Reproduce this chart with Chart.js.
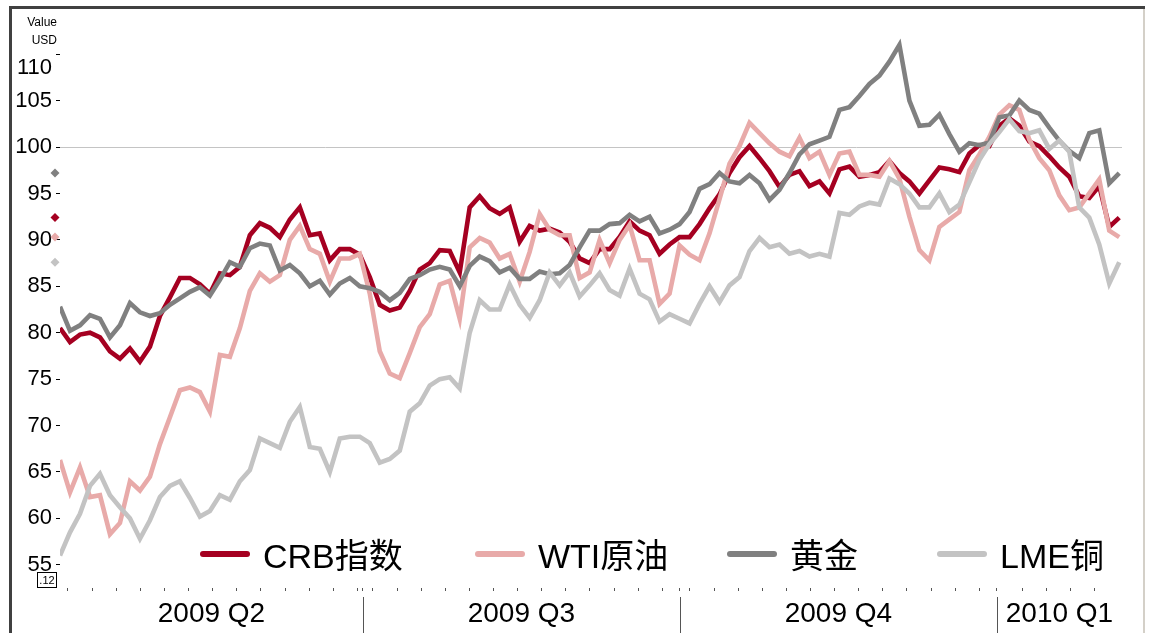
<!DOCTYPE html>
<html lang="zh">
<head>
    <meta charset="UTF-8">
    <title>CRB / WTI / 黄金 / LME铜</title>
    <style>
        body {
            margin: 0;
            padding: 0;
            background: #fff;
        }
        #wrap {
            width: 1151px;
            height: 633px;
        }
    </style>
    <script src="https://cdn.jsdelivr.net/npm/chart.js"></script>
</head>
<body>
    <div id="wrap"><canvas id="chart" width="1151" height="633"></canvas></div>
    <script>
        // x is in days counted from 2009-04-01, one sample about every 2.9 days
        const firstDay = 3.1;
        const stepDays = 2.9;
        const xMin = 3.1;
        const xMax = 311.3;
        const markerDay = 1.65;

        const quarterStarts = [0, 91, 183, 275];
        const quarterLabels = ['2009 Q2', '2009 Q3', '2009 Q4', '2010 Q1'];
        const weekOffsets = [5.4, 2.9, 2.9, 7.3];
        const yTicks = [55, 60, 65, 70, 75, 80, 85, 90, 95, 100, 105, 110];

        const seriesNames = ['CRB指数', 'WTI原油', '黄金', 'LME铜'];
        const seriesColors = ['#a50021', '#e8aaa9', '#808080', '#c3c3c3'];
        const legendX = [200, 475, 727, 937];

        const crb = [
            80.5, 79.0, 79.8, 80.0, 79.5, 78.0, 77.2, 78.3, 76.9, 78.5,
            81.8, 83.8, 85.9, 85.9, 85.2, 84.2, 86.4, 86.2, 87.1, 90.5,
            91.8, 91.3, 90.3, 92.2, 93.5, 90.5, 90.7, 87.8, 89.0, 89.0,
            88.4, 86.0, 83.0, 82.4, 82.7, 84.5, 86.8, 87.5, 88.9, 88.8,
            86.5, 93.5, 94.7, 93.4, 92.8, 93.5, 89.8, 91.5, 91.0, 91.2,
            90.8, 89.8, 88.0, 87.5, 89.0, 89.0, 90.3, 92.0, 91.0, 90.5,
            88.5, 89.5, 90.3, 90.3, 91.7, 93.4, 94.9, 97.2, 98.9, 100.1,
            98.8, 97.4, 95.7, 97.0, 97.4, 95.8, 96.3, 95.0, 97.6, 97.9,
            96.8, 97.0, 97.3, 98.5, 97.2, 96.3, 95.0, 96.4, 97.8, 97.6,
            97.3, 99.3, 100.2, 100.1, 102.3, 103.1, 102.3, 100.6, 100.1, 99.0,
            97.8, 96.8, 94.7, 94.5, 95.8, 91.4, 92.4
        ];
        const wti = [
            66.3, 62.8, 65.5, 62.3, 62.5, 58.3, 59.5, 64.0, 63.0, 64.5,
            68.0, 70.9, 73.8, 74.1, 73.6, 71.5, 77.6, 77.4, 80.5, 84.5,
            86.4, 85.5, 86.2, 90.0, 91.5, 89.0, 88.5, 85.5, 88.0, 88.0,
            88.5, 84.2, 78.0, 75.6, 75.1, 77.8, 80.6, 82.0, 85.2, 85.6,
            81.5, 89.2, 90.2, 89.7, 88.0, 88.5, 85.5, 88.7, 92.8, 91.1,
            90.5, 90.5, 85.9, 86.5, 90.0, 87.5, 90.0, 91.6, 87.8, 87.8,
            83.1, 84.2, 89.4, 88.4, 87.8, 90.7, 94.4, 98.2, 100.1, 102.6,
            101.5, 100.4, 99.5, 99.0, 101.0, 98.8, 99.5, 97.0, 99.3, 99.5,
            97.0, 97.0, 96.8, 98.5, 96.6, 92.5, 88.9, 87.8, 91.4, 92.2,
            93.0, 97.5, 99.2, 101.1, 103.5, 104.5, 104.0, 100.8, 98.8, 97.5,
            94.8, 93.2, 93.5, 95.0, 96.5, 91.0, 90.3
        ];
        const gold = [
            82.8, 80.2, 80.8, 81.9, 81.5, 79.5, 80.8, 83.2, 82.2, 81.8,
            82.1, 83.0, 83.7, 84.4, 84.9, 84.0, 85.7, 87.6, 87.1, 89.1,
            89.6, 89.4, 86.7, 87.3, 86.4, 85.0, 85.6, 84.1, 85.3, 85.9,
            85.0, 84.8, 84.4, 83.5, 84.3, 85.8, 86.2, 86.8, 87.1, 86.8,
            85.0, 87.2, 88.2, 87.7, 86.5, 87.0, 85.8, 85.8, 86.6, 86.3,
            86.4, 87.3, 89.2, 91.0, 91.0, 91.7, 91.8, 92.7, 92.0, 92.5,
            90.7, 91.1, 91.7, 93.0, 95.5, 96.0, 97.2, 96.3, 96.1, 97.0,
            96.1, 94.3, 95.4, 97.2, 99.2, 100.3, 100.7, 101.1, 104.0, 104.3,
            105.5, 106.8, 107.7, 109.2, 111.0, 105.0, 102.3, 102.4, 103.5, 101.4,
            99.5, 100.4, 100.2, 100.5, 103.2, 103.4, 105.0, 104.0, 103.6, 102.1,
            100.7, 99.6, 98.8, 101.5, 101.8, 96.1, 97.2
        ];
        const lme = [
            56.0, 58.5, 60.5, 63.5, 64.8, 62.5, 61.2, 60.0, 57.8, 59.8,
            62.3, 63.5, 64.0, 62.2, 60.2, 60.8, 62.5, 62.0, 64.0, 65.2,
            68.6, 68.1, 67.6, 70.4, 72.0, 67.7, 67.5, 65.0, 68.6, 68.8,
            68.8, 68.1, 66.0, 66.4, 67.3, 71.5, 72.4, 74.3, 75.0, 75.2,
            74.0, 80.0, 83.5, 82.5, 82.5, 85.2, 83.0, 81.6, 83.5, 86.5,
            85.1, 86.5, 83.9, 85.1, 86.4, 84.6, 84.0, 86.9, 84.2, 83.6,
            81.2, 82.0, 81.5, 81.0, 83.1, 85.0, 83.3, 85.1, 86.0, 88.8,
            90.2, 89.2, 89.5, 88.5, 88.8, 88.2, 88.5, 88.2, 92.9, 92.7,
            93.6, 94.0, 93.8, 96.6, 96.0, 95.0, 93.5, 93.5, 95.0, 93.0,
            93.8, 96.2, 98.6, 100.3, 101.6, 103.0, 101.7, 101.5, 101.8, 99.8,
            100.7, 99.5, 93.5, 92.4, 89.5, 85.3, 87.6
        ];
        const allSeries = [crb, wti, gold, lme];

        const fontFamily = '"Liberation Sans", Arial, "Noto Sans CJK SC", sans-serif';

        // weekly tick marks, restarted at each quarter
        const weekTicks = [];
        quarterStarts.forEach((start, q) => {
            const end = q < quarterStarts.length - 1 ? quarterStarts[q + 1] : xMax;
            if (start >= xMin) weekTicks.push(start);
            for (let d = start + weekOffsets[q]; d < end - 1; d += 7) {
                if (d >= xMin && d <= xMax) weekTicks.push(d);
            }
        });

        const datasets = allSeries.map((values, i) => ({
            label: seriesNames[i],
            data: values.map((v, j) => ({ x: firstDay + j * stepDays, y: v })),
            borderColor: seriesColors[i],
            borderWidth: 4.6,
            pointRadius: 0,
            tension: 0,
            fill: false,
            order: allSeries.length - i
        }));

        const decorPlugin = {
            id: 'decor',
            beforeDraw(chart) {
                const ctx = chart.ctx;
                ctx.save();
                ctx.fillStyle = '#fff';
                ctx.fillRect(0, 0, chart.width, chart.height);
                ctx.fillStyle = '#404040';
                ctx.fillRect(9, 6, 3, chart.height - 6);
                ctx.fillRect(9, 6, 1136, 3);
                ctx.fillStyle = '#d4d0c8';
                ctx.fillRect(1143, 9, 2, chart.height - 9);
                ctx.restore();
            },
            afterDraw(chart) {
                const ctx = chart.ctx;
                const xs = chart.scales.x;
                const ys = chart.scales.y;
                ctx.save();

                // unit labels
                ctx.fillStyle = '#000';
                ctx.font = '12px ' + fontFamily;
                ctx.textAlign = 'right';
                ctx.textBaseline = 'middle';
                ctx.fillText('Value', 57, 23);
                ctx.fillText('USD', 57, 41);

                // the top value label sits below its tick in the original
                ctx.font = '22px ' + fontFamily;
                ctx.fillText('110', 52, ys.getPixelForValue(110) + 14);

                // last value of each series, as a diamond beside the axis
                const mx = xs.getPixelForValue(markerDay);
                allSeries.forEach((values, i) => {
                    const my = ys.getPixelForValue(values[values.length - 1]);
                    ctx.fillStyle = seriesColors[i];
                    ctx.beginPath();
                    ctx.moveTo(mx, my - 4.5);
                    ctx.lineTo(mx + 4.5, my);
                    ctx.lineTo(mx, my + 4.5);
                    ctx.lineTo(mx - 4.5, my);
                    ctx.closePath();
                    ctx.fill();
                });

                // small boxed label under the axis
                ctx.fillStyle = '#000';
                ctx.strokeStyle = '#000';
                ctx.lineWidth = 1;
                ctx.strokeRect(37.5, 572.5, 19, 15);
                ctx.font = '11px ' + fontFamily;
                ctx.textAlign = 'center';
                ctx.fillText('.12', 47, 580.5);

                // quarter separators and labels
                ctx.strokeStyle = '#555';
                ctx.lineWidth = 1;
                quarterStarts.forEach((start, q) => {
                    if (start > xMin && start < xMax) {
                        const px = Math.round(xs.getPixelForValue(start)) + 0.5;
                        ctx.beginPath();
                        ctx.moveTo(px, 597);
                        ctx.lineTo(px, chart.height);
                        ctx.stroke();
                    }
                    const end = q < quarterStarts.length - 1 ? quarterStarts[q + 1] : xMax;
                    const a = xs.getPixelForValue(Math.max(start, xMin));
                    const b = xs.getPixelForValue(Math.min(end, xMax));
                    ctx.font = '28px ' + fontFamily;
                    ctx.fillStyle = '#000';
                    ctx.textAlign = 'center';
                    ctx.textBaseline = 'middle';
                    ctx.fillText(quarterLabels[q], (a + b) / 2, 614);
                });

                // legend inside the plot
                ctx.font = '34px ' + fontFamily;
                ctx.textAlign = 'left';
                ctx.textBaseline = 'alphabetic';
                seriesNames.forEach((name, i) => {
                    const x0 = legendX[i];
                    ctx.strokeStyle = seriesColors[i];
                    ctx.lineWidth = 6;
                    ctx.lineCap = 'round';
                    ctx.beginPath();
                    ctx.moveTo(x0 + 3, 554);
                    ctx.lineTo(x0 + 47, 554);
                    ctx.stroke();
                    ctx.fillStyle = '#000';
                    ctx.fillText(name, x0 + 63, 568);
                });
                ctx.restore();
            }
        };

        new Chart(document.getElementById('chart'), {
            type: 'line',
            data: { datasets: datasets },
            options: {
                responsive: false,
                animation: false,
                events: [],
                layout: { padding: { left: 0, right: 29, top: 31, bottom: 0 } },
                plugins: {
                    legend: { display: false },
                    tooltip: { enabled: false }
                },
                scales: {
                    x: {
                        type: 'linear',
                        min: xMin,
                        max: xMax,
                        afterBuildTicks: scale => {
                            scale.ticks = weekTicks.map(v => ({ value: v }));
                        },
                        afterFit: scale => { scale.height = 45; },
                        ticks: { display: false },
                        grid: {
                            drawOnChartArea: false,
                            tickLength: 3,
                            color: '#555',
                            tickColor: '#555',
                            lineWidth: 1
                        },
                        border: { display: false }
                    },
                    y: {
                        min: 52.5,
                        max: 112.5,
                        afterBuildTicks: scale => {
                            scale.ticks = yTicks.map(v => ({ value: v }));
                        },
                        afterFit: scale => { scale.width = 60; },
                        ticks: {
                            color: '#000',
                            padding: 4,
                            font: { size: 22, family: fontFamily },
                            callback: v => (v === 110 ? '' : v)
                        },
                        grid: {
                            color: c => (c.tick && c.tick.value === 100 ? '#c4c4c4' : 'rgba(0,0,0,0)'),
                            tickColor: '#000',
                            tickLength: 4,
                            lineWidth: 1
                        },
                        border: { display: false }
                    }
                }
            },
            plugins: [decorPlugin]
        });
    </script>
</body>
</html>
